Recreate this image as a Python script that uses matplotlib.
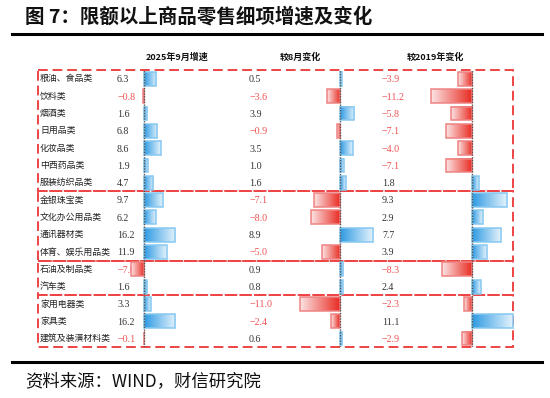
import numpy as np
import matplotlib
matplotlib.use("Agg")
import matplotlib.pyplot as plt
from matplotlib.colors import LinearSegmentedColormap
from matplotlib.patches import Rectangle
from matplotlib.lines import Line2D

plt.rcParams['font.family'] = ['Noto Sans CJK SC', 'DejaVu Sans']

# ---------------- data ----------------
categories = ['粮油、食品类', '饮料类', '烟酒类', '日用品类', '化妆品类', '中西药品类',
              '服装纺织品类', '金银珠宝类', '文化办公用品类', '通讯器材类', '体育、娱乐用品类',
              '石油及制品类', '汽车类', '家用电器类', '家具类', '建筑及装潢材料类']
growth_sep = [6.3, -0.8, 1.6, 6.8, 8.6, 1.9, 4.7, 9.7, 6.2, 16.2, 11.9, -7.0, 1.6, 3.3, 16.2, -0.1]
change_vs_aug = [0.5, -3.6, 3.9, -0.9, 3.5, 1.0, 1.6, -7.1, -8.0, 8.9, -5.0, 0.9, 0.8, -11.0, -2.4, 0.6]
change_vs_2019 = [-3.9, -11.2, -5.8, -7.1, -4.0, -7.1, 1.8, 9.3, 2.9, 7.7, 3.9, -8.3, 2.4, -2.3, 11.1, -2.9]
group_sizes = [7, 4, 2, 3]
headers = ['2025年9月增速', '较8月变化', '较2019年变化']
title = '图 7：限额以上商品零售细项增速及变化'
source = '资料来源：WIND，财信研究院'

# ---------------- layout helpers ----------------
W, H = 550, 398
fig = plt.figure(figsize=(W / 100, H / 100), dpi=100)

def fx(px):
    return px / W

def fy(py):
    return 1 - py / H

top_px, bot_px = 70.3, 347.2
n = len(categories)

# main table axes
ax = fig.add_axes([fx(38), fy(bot_px), fx(513) - fx(38), fy(top_px) - fy(bot_px)])
ax.set_xlim(0, 1)
ax.set_ylim(n - 0.5, -0.5)
ax.axis('off')

def axfrac(px):
    return (px - 38) / (513 - 38)

neg_color = '#f05050'
pos_color = '#333333'
val_font = ['Liberation Serif', 'DejaVu Serif']

for i, name in enumerate(categories):
    ax.text(axfrac(40), i, name, fontsize=6.4, va='center', ha='left', color='#222222')
    for col_px, vals in [(117, growth_sep), (249, change_vs_aug), (382, change_vs_2019)]:
        v = vals[i]
        ax.text(axfrac(col_px), i + 0.05, f'{v:.1f}'.replace('-', '−'), fontsize=7.2,
                family=val_font, va='center', ha='left',
                color=neg_color if v < 0 else pos_color)

# dashed group boxes
start = 0
for g in group_sizes:
    ax.add_patch(Rectangle((0, start - 0.5), 1, g, fill=False, edgecolor='#ee4444',
                           linestyle=(0, (5, 2.5)), linewidth=1.4, clip_on=False, zorder=5))
    start += g

# headers
for cx, h in zip([177, 300, 435], headers):
    fig.text(fx(cx), fy(57), h, fontsize=6.5, fontweight='bold', ha='center', va='center',
             color='#111111')

# gradient colormaps
blue_cmap = LinearSegmentedColormap.from_list('b', ['#2f9be3', '#e3f2fc'])
red_cmap = LinearSegmentedColormap.from_list('r', ['#e8281f', '#fbe3e3'])
grad = np.linspace(0, 1, 64).reshape(1, -1)

def bar_axes(zero_px, ppu, left_px, right_px, vals):
    bax = fig.add_axes([fx(left_px), fy(bot_px), fx(right_px) - fx(left_px),
                        fy(top_px) - fy(bot_px)])
    bax.patch.set_alpha(0)
    bax.axis('off')
    for i, v in enumerate(vals):
        if v == 0:
            continue
        cmap = blue_cmap if v > 0 else red_cmap
        bax.imshow(grad, cmap=cmap, extent=(0, v, i + 0.4, i - 0.4), aspect='auto',
                   interpolation='bilinear', zorder=2)
    ec = ['#86c8f0' if v > 0 else '#ef8282' for v in vals]
    bax.barh(range(len(vals)), vals, height=0.8, fill=False, edgecolor=ec, linewidth=1.1,
             zorder=3)
    bax.axvline(0, color='#555555', linestyle=(0, (1, 1)), linewidth=1.0, zorder=4)
    bax.set_xlim((left_px - zero_px) / ppu, (right_px - zero_px) / ppu)
    bax.set_ylim(len(vals) - 0.5, -0.5)
    return bax

bar_axes(144.3, 1.92, 120, 240, growth_sep)
bar_axes(340.0, 3.68, 290, 380, change_vs_aug)
bar_axes(472.3, 3.68, 420, 515, change_vs_2019)

# title, rules, source
fig.text(fx(25), fy(17), title, fontsize=14, fontweight='bold', ha='left', va='center',
         color='#111111')
fig.add_artist(Line2D([fx(12), fx(542)], [fy(34), fy(34)], color='black', linewidth=2.2))
fig.add_artist(Line2D([fx(12), fx(542)], [fy(362), fy(362)], color='black', linewidth=2.2))
fig.text(fx(25), fy(381), source, fontsize=12.5, fontstyle='italic', ha='left', va='center',
         color='#111111')

fig.savefig('out.png', dpi=100)
